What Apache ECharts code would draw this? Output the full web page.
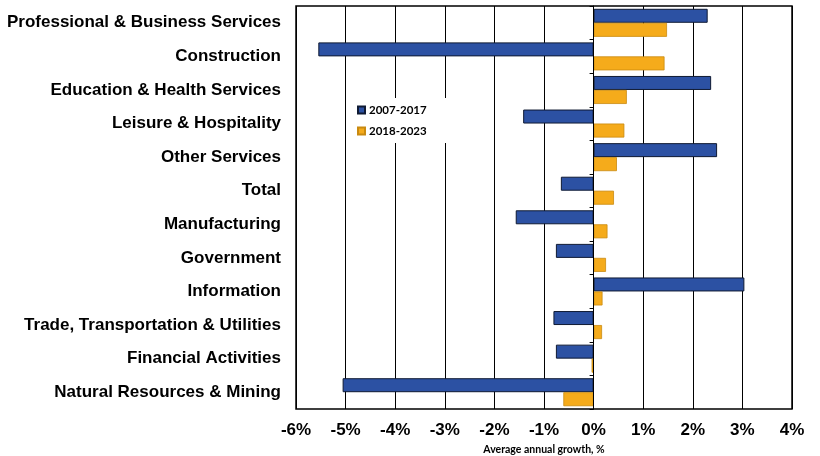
<!DOCTYPE html>
<html>
<head>
<meta charset="utf-8">
<script src="https://cdn.jsdelivr.net/npm/echarts@6/dist/echarts.min.js"></script>
<style>
  html, body { margin: 0; padding: 0; background: #fff; }
  #chart { width: 820px; height: 456px; }
</style>
</head>
<body>
<div id="chart"></div>
<script>
// Industries, top to bottom
const industries = [
  'Professional & Business Services',
  'Construction',
  'Education & Health Services',
  'Leisure & Hospitality',
  'Other Services',
  'Total',
  'Manufacturing',
  'Government',
  'Information',
  'Trade, Transportation & Utilities',
  'Financial Activities',
  'Natural Resources & Mining'
];

// Average annual growth, %
const growth2007to2017 = [2.30, -5.55, 2.37, -1.42, 2.49, -0.66, -1.57, -0.76, 3.04, -0.81, -0.76, -5.06];
const growth2018to2023 = [1.48, 1.43, 0.67, 0.62, 0.47, 0.41, 0.28, 0.25, 0.18, 0.17, -0.04, -0.61];

const seriesNames = ['2007-2017', '2018-2023'];
const xTicks = [-6, -5, -4, -3, -2, -1, 0, 1, 2, 3, 4];

const chart = echarts.init(document.getElementById('chart'), null, { renderer: 'canvas' });

chart.setOption({
  animation: false,
  backgroundColor: '#ffffff',
  grid: {
    left: 296, right: 28, top: 6, bottom: 47,
    outerBoundsMode: 'none',
    containLabel: false,
    show: true, borderColor: '#000', borderWidth: 1.5, backgroundColor: 'transparent'
  },
  legend: {
    data: seriesNames,
    orient: 'vertical',
    left: 347, top: 98,
    padding: [6, 20, 6, 10],
    backgroundColor: '#ffffff',
    itemWidth: 7, itemHeight: 7, itemGap: 9,
    icon: 'rect',
    textStyle: { fontFamily: 'Lato', fontWeight: 'bold', fontSize: 11.5, color: '#000', padding: [0, 0, 0, -1] }
  },
  xAxis: {
    type: 'value',
    min: xTicks[0], max: xTicks[xTicks.length - 1], interval: 1,
    name: 'Average annual growth, %',
    nameLocation: 'middle', nameGap: 33,
    nameTextStyle: { fontFamily: 'Lato', fontWeight: 'bold', fontSize: 10.5, color: '#000' },
    axisLine: { show: false },
    axisTick: { show: false },
    axisLabel: {
      formatter: v => v + '%', margin: 13,
      fontFamily: 'Liberation Sans', fontWeight: 'bold', fontSize: 17, color: '#000'
    },
    splitLine: { show: true, lineStyle: { color: '#000', width: 1 } }
  },
  yAxis: [
    {
      type: 'category', data: industries, inverse: true,
      axisLine: { show: false }, axisTick: { show: false },
      axisLabel: {
        margin: 15,
        fontFamily: 'Liberation Sans', fontWeight: 'bold', fontSize: 17, color: '#000'
      }
    },
    {
      // category ticks drawn on the zero line
      type: 'category', data: industries, inverse: true, position: 'left',
      axisLine: { show: true, onZero: true, onZeroAxisIndex: 0, lineStyle: { color: '#000', width: 1 } },
      axisTick: { show: true, length: 4, lineStyle: { color: '#000' } },
      axisLabel: { show: false },
      z: 5
    }
  ],
  series: [
    {
      name: seriesNames[0], type: 'bar', data: growth2007to2017,
      barWidth: 14, barGap: '0%',
      itemStyle: { color: '#2c51a3', borderColor: '#0f1a33', borderWidth: 1 }
    },
    {
      name: seriesNames[1], type: 'bar', data: growth2018to2023,
      barWidth: 14, barGap: '0%',
      itemStyle: { color: '#f5ab1b', borderColor: '#c98a10', borderWidth: 0.8 }
    }
  ]
});
</script>
</body>
</html>
